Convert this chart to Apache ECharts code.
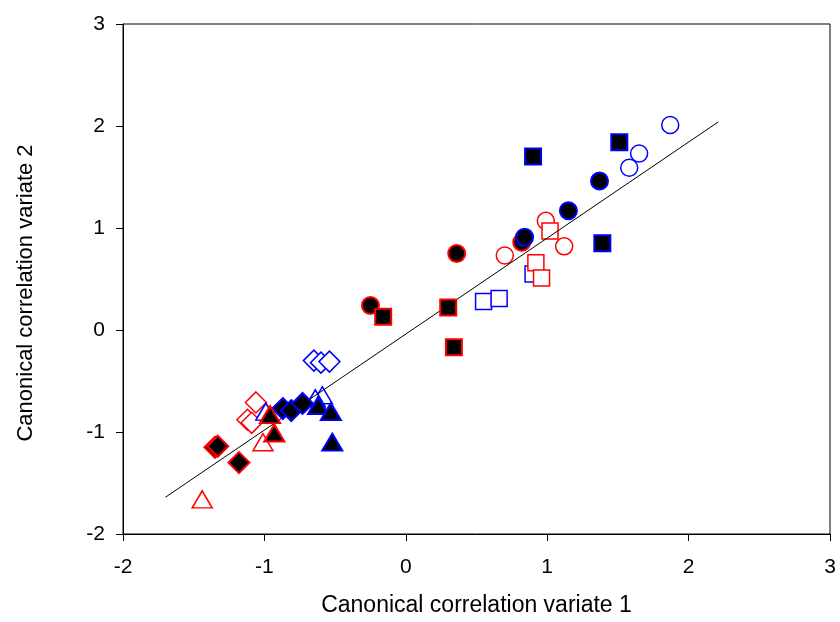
<!DOCTYPE html>
<html>
<head>
<meta charset="utf-8">
<script src="https://cdn.jsdelivr.net/npm/echarts@6/dist/echarts.min.js"></script>
<style>html,body{margin:0;padding:0;background:#fff;}#chart{width:840px;height:622px;}</style>
</head>
<body>
<div id="chart"></div>
<script>
// Axis tick values
var xTicks = [-2, -1, 0, 1, 2, 3];
var yTicks = [-2, -1, 0, 1, 2, 3];

// Circles
var filledRedCircleX = [0.36, -0.25, 0.82];
var filledRedCircleY = [0.75, 0.24, 0.86];
var filledBlueCircleX = [1.37, 1.15, 0.84];
var filledBlueCircleY = [1.46, 1.17, 0.91];
var openRedCircleX = [0.99, 0.70, 1.12];
var openRedCircleY = [1.07, 0.73, 0.82];
var openBlueCircleX = [1.87, 1.65, 1.58];
var openBlueCircleY = [2.01, 1.73, 1.59];

// Squares
var filledRedSquareX = [0.30, 0.34, -0.16];
var filledRedSquareY = [0.22, -0.17, 0.13];
var filledBlueSquareX = [1.51, 0.90, 1.39];
var filledBlueSquareY = [1.84, 1.70, 0.85];
var openRedSquareX = [1.02, 0.92, 0.96];
var openRedSquareY = [0.97, 0.66, 0.51];
var openBlueSquareX = [0.55, 0.66, 0.90];
var openBlueSquareY = [0.28, 0.31, 0.55];

// Diamonds
var filledRedDiamondX = [-1.35, -1.33, -1.18];
var filledRedDiamondY = [-1.15, -1.14, -1.30];
var filledBlueDiamondX = [-0.87, -0.81, -0.73];
var filledBlueDiamondY = [-0.77, -0.79, -0.72];
var openRedDiamondX = [-1.06, -1.12, -1.09];
var openRedDiamondY = [-0.71, -0.88, -0.91];
var openBlueDiamondX = [-0.65, -0.60, -0.54];
var openBlueDiamondY = [-0.30, -0.32, -0.31];

// Triangles
var filledRedTriangleX = [-0.96, -0.93];
var filledRedTriangleY = [-0.83, -1.01];
var filledBlueTriangleX = [-0.62, -0.53, -0.52];
var filledBlueTriangleY = [-0.74, -0.80, -1.10];
var openRedTriangleX = [-1.44, -1.01];
var openRedTriangleY = [-1.66, -1.10];
var openBlueTriangleX = [-0.59, -0.64, -0.99];
var openBlueTriangleY = [-0.64, -0.67, -0.80];

// Fitted line endpoints
var fitX = [-1.70, 2.21];
var fitY = [-1.64, 2.04];

var RED = '#ff0000', BLUE = '#0000ff';
function pairs(xs, ys) { return xs.map(function (x, i) { return [x, ys[i]]; }); }
function sc(name, xs, ys, symbol, size, filled, edge) {
  return {
    name: name, type: 'scatter', data: pairs(xs, ys), symbol: symbol, symbolSize: size,
    z: filled ? 4 : 2,
    itemStyle: { color: filled ? '#000' : '#fff', borderColor: edge, borderWidth: filled ? 2 : 1.5, opacity: 1 },
    emphasis: { disabled: true }, animation: false
  };
}
var CS = 17, RS = 16, DS = 21, TS = [20, 17];
var series = [
  sc('openBlueCircle', openBlueCircleX, openBlueCircleY, 'circle', CS, false, BLUE),
  sc('openRedCircle', openRedCircleX, openRedCircleY, 'circle', CS, false, RED),
  sc('openBlueSquare', openBlueSquareX, openBlueSquareY, 'rect', RS, false, BLUE),
  sc('openRedSquare', openRedSquareX, openRedSquareY, 'rect', RS, false, RED),
  sc('openBlueDiamond', openBlueDiamondX, openBlueDiamondY, 'diamond', DS, false, BLUE),
  sc('openRedDiamond', openRedDiamondX, openRedDiamondY, 'diamond', DS, false, RED),
  sc('openBlueTriangle', openBlueTriangleX, openBlueTriangleY, 'triangle', TS, false, BLUE),
  sc('openRedTriangle', openRedTriangleX, openRedTriangleY, 'triangle', TS, false, RED),
  sc('filledRedCircle', filledRedCircleX, filledRedCircleY, 'circle', CS, true, RED),
  sc('filledBlueCircle', filledBlueCircleX, filledBlueCircleY, 'circle', CS, true, BLUE),
  sc('filledRedSquare', filledRedSquareX, filledRedSquareY, 'rect', RS, true, RED),
  sc('filledBlueSquare', filledBlueSquareX, filledBlueSquareY, 'rect', RS, true, BLUE),
  sc('filledBlueDiamond', filledBlueDiamondX, filledBlueDiamondY, 'diamond', DS, true, BLUE),
  sc('filledRedDiamond', filledRedDiamondX, filledRedDiamondY, 'diamond', DS, true, RED),
  sc('filledBlueTriangle', filledBlueTriangleX, filledBlueTriangleY, 'triangle', TS, true, BLUE),
  sc('filledRedTriangle', filledRedTriangleX, filledRedTriangleY, 'triangle', TS, true, RED),
  {
    name: 'fit', type: 'line', data: pairs(fitX, fitY), symbol: 'none', z: 3,
    lineStyle: { color: '#000', width: 1 }, animation: false, silent: true
  }
];

var FONT = "'Liberation Sans', Arial, sans-serif";
var chart = echarts.init(document.getElementById('chart'), null, { renderer: 'canvas' });
chart.setOption({
  backgroundColor: '#fff',
  animation: false,
  grid: { left: 123, top: 24, right: 10, bottom: 88, show: true, borderColor: '#000', borderWidth: 1, backgroundColor: 'transparent' },
  xAxis: {
    type: 'value', min: xTicks[0], max: xTicks[xTicks.length - 1], interval: 1,
    name: 'Canonical correlation variate 1', nameLocation: 'middle', nameGap: 60,
    nameTextStyle: { fontFamily: FONT, fontSize: 23, color: '#000' },
    axisLine: { show: true, onZero: false, lineStyle: { color: '#000', width: 1 } },
    axisTick: { show: true, inside: false, length: 7, lineStyle: { color: '#000' } },
    axisLabel: { fontFamily: FONT, fontSize: 21, color: '#000', margin: 23 },
    splitLine: { show: false }
  },
  yAxis: {
    type: 'value', min: yTicks[0], max: yTicks[yTicks.length - 1], interval: 1,
    name: 'Canonical correlation variate 2', nameLocation: 'middle', nameGap: 86, nameRotate: 90,
    nameTextStyle: { fontFamily: FONT, fontSize: 22, color: '#000', padding: [0, 28, 0, 0] },
    axisLine: { show: true, onZero: false, lineStyle: { color: '#000', width: 1 } },
    axisTick: { show: true, inside: false, length: 7, lineStyle: { color: '#000' } },
    axisLabel: { fontFamily: FONT, fontSize: 21, color: '#000', margin: 18 },
    splitLine: { show: false }
  },
  series: series
});
</script>
</body>
</html>
